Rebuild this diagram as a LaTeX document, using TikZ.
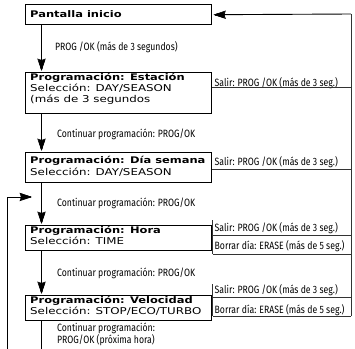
\documentclass[tikz,border=0pt]{standalone}
\usepackage{fontspec}
\usetikzlibrary{arrows.meta}
\newfontfamily\boxfont[FakeStretch=1.26]{DejaVu Sans}
\newfontfamily\labfont[FakeStretch=0.82]{Fira Sans}
\tikzset{
  box/.style={draw=black, line width=1.4bp, anchor=north west, minimum width=186bp, inner sep=0pt},
  btitle/.style={anchor=base west, inner sep=0pt, font=\boxfont\bfseries\fontsize{9.1bp}{11bp}\selectfont},
  bsel/.style={anchor=base west, inner sep=0pt, font=\boxfont\fontsize{9.4bp}{11bp}\selectfont},
  lab/.style={anchor=base west, inner sep=0pt, font=\labfont\fontsize{10.6bp}{11bp}\selectfont},
  conn/.style={black, line width=0.9bp},
  arr/.style={conn, shorten >=6bp},
  cell/.style={black!80, line width=0.6bp},
  tiph/.pic={
    \foreach \t in {-3.2,-2.6,...,3.3} {\draw[black, line width=0.9bp] (-0.6,0) -- (-10.2,\t);}
    \draw[black, line width=0.6bp, line join=miter] (0,0) -- (-11,3.7) -- (-9.5,0) -- (-11,-3.7) -- cycle;},
}
\begin{document}
\begin{tikzpicture}[x=1bp, y=-1bp]
\useasboundingbox (0,0) rectangle (355,349);
% boxes
\node[box, minimum height=20bp] (p) at (25,4) {};
\node[box, minimum height=41bp] (e) at (25,72) {};
\node[box, minimum height=30bp] (d) at (25,152) {};
\node[box, minimum height=25bp] (h) at (25,225) {};
\node[box, minimum height=25bp] (v) at (25,295) {};
% box texts
\node[btitle] (pt) at (30,17.5) {Pantalla inicio};
\node[btitle] (et) at (30,80) {Programación: Estación};
\node[bsel] (es) at (30,91) {Selección: DAY/SEASON};
\node[bsel] (em) at (30,102.5) {(más de 3 segundos};
\node[btitle] (dt) at (30,163) {Programación: Día semana};
\node[bsel] (ds) at (30,175) {Selección: DAY/SEASON};
\node[btitle] (ht) at (30,233) {Programación: Hora};
\node[bsel] (hs) at (30,244.5) {Selección: TIME};
\node[btitle] (vt) at (30,303.5) {Programación: Velocidad};
\node[bsel] (vs) at (30,314.5) {Selección: STOP/ECO/TURBO};
% column coordinates
\coordinate (ax) at (41.5,0);
\coordinate (rx) at (351,0);
\coordinate (cx) at (212.5,0);
\coordinate (bot) at (41.5,349);
\coordinate (fb) at (7.5,349);
\coordinate (fa) at (31,197);
% main flow
\draw[arr] (p.south -| ax) -- (e.north -| ax);
\path (e.north -| ax) ++(0,-2) pic[rotate=-90] {tiph};
\draw[arr] (e.south -| ax) -- (d.north -| ax);
\path (d.north -| ax) ++(0,-2) pic[rotate=-90] {tiph};
\draw[arr] (d.south -| ax) -- (h.north -| ax);
\path (h.north -| ax) ++(0,-2) pic[rotate=-90] {tiph};
\draw[arr] (h.south -| ax) -- (v.north -| ax);
\path (v.north -| ax) ++(0,-2) pic[rotate=-90] {tiph};
\draw[conn] (v.south -| ax) -- (bot);
\draw[arr] (fb) -- (fb |- fa) -- (fa);
\path (fa) pic {tiph};
% flow labels
\node[lab] (l1) at (55,50) {PROG /OK (más de 3 segundos)};
\node[lab] (l2) at (57,137) {Continuar programación: PROG/OK};
\node[lab] (l3) at (57,206) {Continuar programación: PROG/OK};
\node[lab] (l4) at (57,276) {Continuar programación: PROG/OK};
\node[lab] (l5) at (57,331) {Continuar programación:};
\node[lab] (l6) at (57,343.5) {PROG/OK (próxima hora)};
% right side
\coordinate (rt) at (351,14);
\coordinate (rb) at (351,316);
\draw[cell] (rb) -- (rt);
\draw[arr] (rt) -- (p.east);
\path (p.east) ++(2,0) pic[rotate=180] {tiph};
\node[lab] (s1) at (214.5,86) {Salir: PROG /OK (más de 3 seg.)};
\draw[cell] (e.east |- 0,87) -- (rx |- 0,87);
\node[lab] (s2) at (214.5,165) {Salir: PROG /OK (más de 3 seg.)};
\draw[cell] (d.east |- 0,169) -- (rx |- 0,169);
\node[lab] (s3) at (214.5,231) {Salir: PROG /OK (más de 3 seg.)};
\node[lab] (b3) at (214.5,249.5) {Borrar día: ERASE (más de 5 seg.)};
\draw[cell] (cx |- 0,220) -- (cx |- 0,254);
\draw[cell] (cx |- 0,235) -- (rx |- 0,235);
\draw[cell] (cx |- 0,254) -- (rx |- 0,254);
\node[lab] (s4) at (214.5,293) {Salir: PROG /OK (más de 3 seg.)};
\node[lab] (b4) at (214.5,313) {Borrar día: ERASE (más de 5 seg.)};
\draw[cell] (cx |- 0,284) -- (cx |- 0,316);
\draw[cell] (cx |- 0,297) -- (rx |- 0,297);
\draw[cell] (cx |- 0,316) -- (rx |- 0,316);
\end{tikzpicture}
\end{document}
